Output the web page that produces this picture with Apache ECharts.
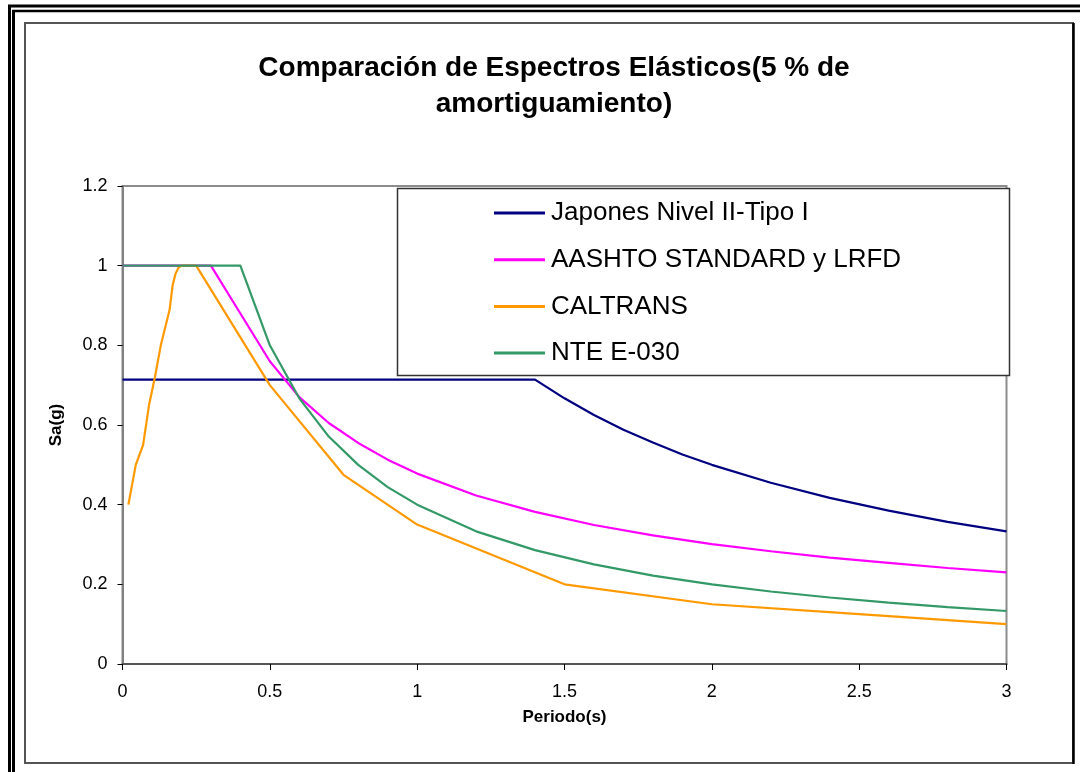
<!DOCTYPE html>
<html>
<head>
<meta charset="utf-8">
<script src="https://cdn.jsdelivr.net/npm/echarts@6/dist/echarts.min.js"></script>
<style>
  html, body { margin: 0; padding: 0; background: #ffffff; }
  #chart { width: 1080px; height: 772px; }
</style>
</head>
<body>
<div id="chart"></div>
<script>
// Elastic response spectra (5 % damping): period (s) vs spectral acceleration Sa (g)
const seriesNames = ['Japones Nivel II-Tipo I', 'AASHTO STANDARD y LRFD', 'CALTRANS', 'NTE E-030'];
const seriesColors = ['#000080', '#FF00FF', '#FF9900', '#339966'];

const japonesT  = [0, 1.4, 1.5, 1.6, 1.7, 1.8, 1.9, 2.0, 2.2, 2.4, 2.6, 2.8, 3.0];
const japonesSa = [0.714, 0.714, 0.667, 0.625, 0.588, 0.556, 0.526, 0.5, 0.455, 0.417, 0.385, 0.357, 0.333];

const aashtoT  = [0, 0.3, 0.4, 0.5, 0.6, 0.7, 0.8, 0.9, 1.0, 1.2, 1.4, 1.6, 1.8, 2.0, 2.2, 2.4, 2.6, 2.8, 3.0];
const aashtoSa = [1.0, 1.0, 0.88, 0.76, 0.67, 0.605, 0.555, 0.513, 0.478, 0.423, 0.382, 0.349, 0.323, 0.301, 0.283, 0.267, 0.254, 0.241, 0.23];

const caltransT  = [0.02, 0.045, 0.07, 0.09, 0.11, 0.13, 0.16, 0.17, 0.18, 0.19, 0.2, 0.25, 0.5, 0.75, 1.0, 1.5, 2.0, 2.5, 3.0];
const caltransSa = [0.4, 0.5, 0.55, 0.65, 0.72, 0.8, 0.89, 0.95, 0.98, 0.995, 1.0, 1.0, 0.7, 0.475, 0.35, 0.2, 0.15, 0.125, 0.1];

const nteT  = [0, 0.4, 0.5, 0.6, 0.7, 0.8, 0.9, 1.0, 1.2, 1.4, 1.6, 1.8, 2.0, 2.2, 2.4, 2.6, 2.8, 3.0];
const nteSa = [1.0, 1.0, 0.8, 0.667, 0.571, 0.5, 0.444, 0.4, 0.333, 0.286, 0.25, 0.222, 0.2, 0.182, 0.167, 0.154, 0.143, 0.133];

const xTicks = [0, 0.5, 1, 1.5, 2, 2.5, 3];
const yTicks = [0, 0.2, 0.4, 0.6, 0.8, 1, 1.2];

const FONT = '"Liberation Sans", Arial, sans-serif';

function pairs(xs, ys) { return xs.map((x, i) => [x, ys[i]]); }

const dataSets = [
  pairs(japonesT, japonesSa),
  pairs(aashtoT, aashtoSa),
  pairs(caltransT, caltransSa),
  pairs(nteT, nteSa)
];

const chart = echarts.init(document.getElementById('chart'), null, { renderer: 'canvas' });

const option = {
  backgroundColor: '#ffffff',
  animation: false,
  color: seriesColors,
  title: {
    text: 'Comparación de Espectros Elásticos(5 % de\namortiguamiento)',
    left: 549,
    top: 45,
    textAlign: 'center',
    textStyle: {
      fontFamily: FONT,
      fontWeight: 'bold',
      fontSize: 28,
      lineHeight: 36,
      color: '#000000'
    }
  },
  graphic: [
    // outer double frame (top and left)
    { type: 'line', z: 1, shape: { x1: 8, y1: 6, x2: 1080, y2: 6 }, style: { stroke: '#000', lineWidth: 3 } },
    { type: 'line', z: 1, shape: { x1: 12, y1: 11, x2: 1080, y2: 11 }, style: { stroke: '#000', lineWidth: 2.5 } },
    { type: 'line', z: 1, shape: { x1: 9.5, y1: 5, x2: 9.5, y2: 772 }, style: { stroke: '#000', lineWidth: 3 } },
    { type: 'line', z: 1, shape: { x1: 13.5, y1: 10, x2: 13.5, y2: 772 }, style: { stroke: '#000', lineWidth: 3 } },
    // chart area box
    { type: 'rect', z: 1, shape: { x: 25, y: 23, width: 1048, height: 740 }, style: { fill: null, stroke: '#555555', lineWidth: 2 } },
    { type: 'line', z: 1, shape: { x1: 1073.5, y1: 23, x2: 1073.5, y2: 764 }, style: { stroke: '#000', lineWidth: 2.5 } },
    // legend frame
    { type: 'rect', z: 50, shape: { x: 397.5, y: 188.5, width: 612, height: 187 }, style: { fill: '#ffffff', stroke: '#333333', lineWidth: 1.5 } }
  ],
  legend: {
    data: seriesNames,
    orient: 'vertical',
    left: 494,
    top: 198,
    z: 60,
    itemWidth: 51,
    itemHeight: 3,
    itemGap: 16.7,
    icon: 'rect',
    padding: 0,
    textStyle: {
      fontFamily: FONT,
      fontSize: 26,
      lineHeight: 30,
      color: '#000000',
      padding: [0, 0, 0, 1]
    }
  },
  grid: {
    left: 122.5,
    right: 73.5,
    top: 186,
    bottom: 108,
    show: true,
    borderColor: '#8c8c8c',
    borderWidth: 2,
    backgroundColor: 'transparent'
  },
  xAxis: {
    type: 'value',
    min: 0,
    max: 3,
    interval: 0.5,
    name: 'Periodo(s)',
    nameLocation: 'middle',
    nameGap: 45,
    nameTextStyle: { fontFamily: FONT, fontWeight: 'bold', fontSize: 17, color: '#000' },
    axisLine: { show: true, onZero: false, lineStyle: { color: '#555555', width: 2 } },
    axisTick: { show: true, inside: false, length: 6, lineStyle: { color: '#000', width: 1 } },
    axisLabel: {
      fontFamily: FONT, fontSize: 18, color: '#000', margin: 19,
      formatter: v => xTicks.includes(v) ? String(v) : ''
    },
    splitLine: { show: false }
  },
  yAxis: {
    type: 'value',
    min: 0,
    max: 1.2,
    interval: 0.2,
    name: 'Sa(g)',
    nameLocation: 'middle',
    nameRotate: 90,
    nameGap: 58,
    nameTextStyle: { fontFamily: FONT, fontWeight: 'bold', fontSize: 17, color: '#000' },
    axisLine: { show: true, onZero: false, lineStyle: { color: '#808080', width: 2 } },
    axisTick: { show: true, inside: false, length: 5, lineStyle: { color: '#000', width: 1 } },
    axisLabel: {
      fontFamily: FONT, fontSize: 18, color: '#000', margin: 15,
      formatter: v => {
        const t = yTicks.find(k => Math.abs(k - v) < 1e-9);
        return t === undefined ? '' : String(t);
      }
    },
    splitLine: { show: false }
  },
  series: seriesNames.map((name, i) => ({
    name: name,
    type: 'line',
    data: dataSets[i],
    showSymbol: false,
    symbol: 'none',
    smooth: false,
    clip: true,
    z: 5,
    lineStyle: { color: seriesColors[i], width: 2.2 },
    itemStyle: { color: seriesColors[i] }
  }))
};

chart.setOption(option);
</script>
</body>
</html>
